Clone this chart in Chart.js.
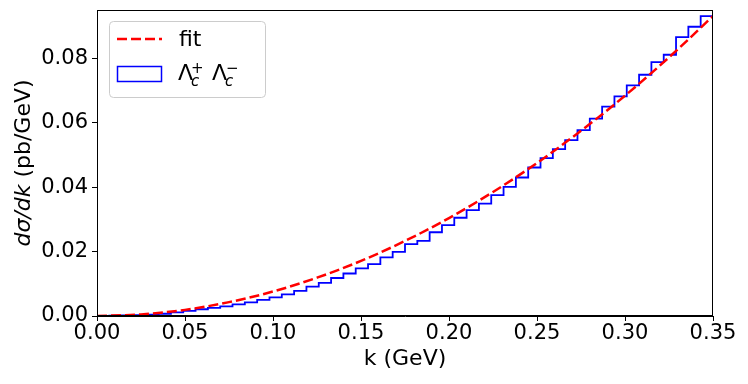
<!DOCTYPE html>
<html>
<head>
<meta charset="utf-8">
<script src="https://cdn.jsdelivr.net/npm/chart.js@4"></script>
<style>
  html, body { margin: 0; padding: 0; background: #fff; }
  #wrap { width: 748px; height: 384px; }
</style>
</head>
<body>
<div id="wrap"><canvas id="spectrum" width="748" height="384"></canvas></div>
<script>
// histogram: 50 bins of width 0.007 GeV between 0 and 0.35
const binWidth = 0.007;
const histVals = [
    0.00003, 0.0001, 0.0002, 0.0003, 0.0004, 0.0007, 0.0011, 0.0016, 0.0021, 0.0025,
    0.0030, 0.0036, 0.0042, 0.0050, 0.0058, 0.0067, 0.0078, 0.0091, 0.0103, 0.0118,
    0.0132, 0.0148, 0.0161, 0.0182, 0.0199, 0.0223, 0.0233, 0.0260, 0.0282, 0.0305,
    0.0329, 0.0349, 0.0375, 0.0401, 0.0430, 0.0461, 0.0490, 0.0518, 0.0546, 0.0577,
    0.0613, 0.0650, 0.0682, 0.0716, 0.0749, 0.0788, 0.0811, 0.0866, 0.0898, 0.0931,
];

// fit curve
const fitK = [0, 0.025, 0.05, 0.075, 0.10, 0.125, 0.15, 0.175, 0.20, 0.225, 0.25, 0.275, 0.30, 0.325, 0.35];
const fitVals = [0, 0.0005, 0.0019, 0.0043, 0.0076, 0.0119, 0.0171, 0.0233, 0.0304, 0.0385, 0.0475, 0.0575, 0.0684, 0.0803, 0.0931];

const xTicks = [0, 0.05, 0.10, 0.15, 0.20, 0.25, 0.30, 0.35];
const yTicks = [0, 0.02, 0.04, 0.06, 0.08];

const FONT = "'DejaVu Sans', sans-serif";

// step outline like matplotlib histtype="step"
const histPoints = [{ x: 0, y: 0 }];
histVals.forEach((v, i) => histPoints.push({ x: +(i * binWidth).toFixed(3), y: v }));
const lastEdge = +(histVals.length * binWidth).toFixed(3);
histPoints.push({ x: lastEdge, y: histVals[histVals.length - 1] });
histPoints.push({ x: lastEdge, y: 0 });

const fitPoints = fitK.map((k, i) => ({ x: k, y: fitVals[i] }));

const extras = {
    id: "extras",
    afterDatasetsDraw(chart) {
        const { ctx, chartArea: a } = chart;
        ctx.save();
        // frame
        ctx.strokeStyle = "#000";
        ctx.lineWidth = 1;
        ctx.strokeRect(Math.round(a.left) + 0.5, Math.round(a.top) + 0.5,
            Math.round(a.right - a.left) - 1, Math.round(a.bottom - a.top) - 1);

        // legend box
        ctx.beginPath();
        ctx.roundRect(109.5, 21.5, 156, 76, 4);
        ctx.fillStyle = "rgba(255,255,255,0.8)";
        ctx.fill();
        ctx.strokeStyle = "#cccccc";
        ctx.stroke();

        ctx.beginPath();
        ctx.setLineDash([10, 4]);
        ctx.strokeStyle = "#ff0000";
        ctx.lineWidth = 2.5;
        ctx.moveTo(117, 39);
        ctx.lineTo(162, 39);
        ctx.stroke();
        ctx.setLineDash([]);

        ctx.fillStyle = "#000";
        ctx.textBaseline = "middle";
        ctx.textAlign = "left";
        ctx.font = "22px " + FONT;
        ctx.fillText("fit", 179, 40);

        ctx.strokeStyle = "#0000ff";
        ctx.lineWidth = 1.5;
        ctx.strokeRect(117.5, 66.5, 44, 15);

        ctx.textBaseline = "alphabetic";
        ctx.font = "22px " + FONT;
        ctx.fillText("Λ", 178, 80);
        ctx.fillText("Λ", 212, 80);
        ctx.font = "italic 15px " + FONT;
        ctx.fillText("c", 191, 86);
        ctx.fillText("c", 225, 86);
        ctx.font = "15px " + FONT;
        ctx.fillText("+", 191, 73);
        ctx.fillText("−", 226, 73);

        // y axis title: d sigma / dk in italic, unit upright
        const p1 = "dσ/dk", p2 = " (pb/GeV)";
        ctx.translate(24, (a.top + a.bottom) / 2);
        ctx.rotate(-Math.PI / 2);
        ctx.textBaseline = "middle";
        ctx.font = "italic 22px " + FONT;
        const w1 = ctx.measureText(p1).width;
        ctx.font = "22px " + FONT;
        const w2 = ctx.measureText(p2).width;
        let x0 = -(w1 + w2) / 2;
        ctx.font = "italic 22px " + FONT;
        ctx.fillText(p1, x0, 0);
        ctx.font = "22px " + FONT;
        ctx.fillText(p2, x0 + w1, 0);
        ctx.restore();
    },
};

new Chart(document.getElementById("spectrum"), {
    type: "line",
    data: {
        datasets: [
            {
                label: "fit",
                data: fitPoints,
                borderColor: "#ff0000",
                borderWidth: 2.5,
                borderDash: [10, 4],
                pointRadius: 0,
                cubicInterpolationMode: "monotone",
                fill: false,
                order: 1,
            },
            {
                label: "Λc+ Λc−",
                data: histPoints,
                borderColor: "#0000ff",
                borderWidth: 1.8,
                stepped: true,
                pointRadius: 0,
                fill: false,
                order: 2,
            },
        ],
    },
    options: {
        responsive: false,
        animation: false,
        devicePixelRatio: 1,
        layout: { padding: { left: 0, top: 10, right: 35, bottom: 0 } },
        plugins: {
            legend: { display: false },
            tooltip: { enabled: false },
        },
        scales: {
            x: {
                type: "linear",
                min: 0,
                max: 0.35,
                afterBuildTicks: (s) => { s.ticks = xTicks.map((v) => ({ value: v })); },
                afterFit: (s) => { s.height = 68; s.paddingLeft = 0; s.paddingRight = 0; },
                grid: { drawOnChartArea: false, drawTicks: true, tickLength: 5, color: "#000" },
                border: { display: true, color: "#000" },
                ticks: {
                    color: "#000",
                    padding: 0,
                    maxRotation: 0,
                    font: { family: FONT, size: 21 },
                    callback: (v) => v.toFixed(2),
                },
                title: {
                    display: true,
                    text: "k (GeV)",
                    color: "#000",
                    font: { family: FONT, size: 22 },
                    padding: { top: 0, bottom: 12 },
                },
            },
            y: {
                type: "linear",
                min: 0,
                max: 0.095,
                afterBuildTicks: (s) => { s.ticks = yTicks.map((v) => ({ value: v })); },
                afterFit: (s) => { s.width = 97; s.paddingTop = 0; s.paddingBottom = 0; },
                grid: { drawOnChartArea: false, drawTicks: true, tickLength: 5, color: "#000" },
                border: { display: true, color: "#000" },
                ticks: {
                    color: "#000",
                    padding: 4,
                    font: { family: FONT, size: 21 },
                    callback: (v) => v.toFixed(2),
                },
            },
        },
    },
    plugins: [extras],
});
</script>
</body>
</html>
